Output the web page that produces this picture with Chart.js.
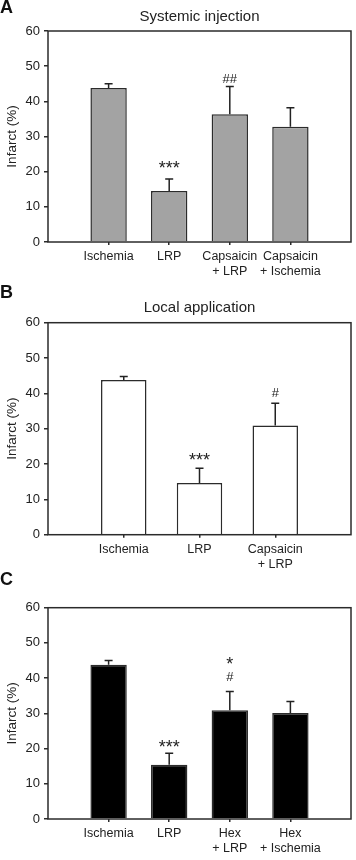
<!DOCTYPE html>
<html>
<head>
<meta charset="utf-8">
<script src="https://cdn.jsdelivr.net/npm/chart.js@4.4.1/dist/chart.umd.min.js"></script>
<style>
  body { margin: 0; background: #fff; }
  #wrap { position: relative; width: 356px; height: 860px; }
  canvas { position: absolute; left: 0; }
</style>
</head>
<body>
<div id="wrap">
  <canvas id="chartA" width="356" height="290" style="top:0px"></canvas>
  <canvas id="chartB" width="356" height="290" style="top:280px"></canvas>
  <canvas id="chartC" width="356" height="290" style="top:570px"></canvas>
</div>
<script>
// Panel A - systemic injection
var labelsA = ['Ischemia', 'LRP', ['Capsaicin', '+ LRP'], ['Capsaicin', '+ Ischemia']];
var infarctA = [43.8, 14.5, 36.3, 32.8];
var semA = [1.2, 3.4, 7.9, 5.4];
var sigTextA = [null, '***', '##', null];
var sigAtA = [null, 21.9, 46.4, null];

// Panel B - local application
var labelsB = ['Ischemia', 'LRP', ['Capsaicin', '+ LRP']];
var infarctB = [43.8, 14.6, 30.9];
var semB = [1.0, 4.2, 6.3];
var sigTextB = [null, '***', '#'];
var sigAtB = [null, 22.1, 40.2];

// Panel C - hexamethonium
var labelsC = ['Ischemia', 'LRP', ['Hex', '+ LRP'], ['Hex', '+ Ischemia']];
var infarctC = [43.8, 15.4, 30.9, 30.1];
var semC = [1.2, 3.3, 5.3, 3.3];
var sigTextC = [null, '***', '#', null];
var sigAtC = [null, 21.5, 40.4, null];
var sigTextC2 = [null, null, '*', null];
var sigAtC2 = [null, null, 45.0, null];

var yTicks = [0, 10, 20, 30, 40, 50, 60];

var FONT = '"Liberation Sans", Arial, Helvetica, sans-serif';
var INK = '#222';

// error bars (upwards only) + significance marks
var errBars = {
  id: 'errBars',
  afterDatasetsDraw: function(chart) {
    var o = chart.options.plugins.errBars;
    var ctx = chart.ctx;
    var ys = chart.scales.y;
    var meta = chart.getDatasetMeta(0);
    var vals = chart.data.datasets[0].data;
    ctx.save();
    ctx.strokeStyle = INK;
    ctx.lineWidth = 1.5;
    meta.data.forEach(function(bar, i) {
      var e = o.errors[i];
      if (e == null || vals[i] == null) return;
      var top = ys.getPixelForValue(vals[i] + e);
      ctx.beginPath();
      ctx.moveTo(bar.x, bar.y);
      ctx.lineTo(bar.x, top);
      ctx.moveTo(bar.x - 4, top);
      ctx.lineTo(bar.x + 4, top);
      ctx.stroke();
    });
    ctx.fillStyle = INK;
    ctx.textAlign = 'center';
    ctx.textBaseline = 'alphabetic';
    o.marks.forEach(function(m) {
      meta.data.forEach(function(bar, i) {
        var t = m.text[i];
        if (!t) return;
        ctx.font = (t.indexOf('*') >= 0 ? '18px ' : '13px ') + FONT;
        var mt = ctx.measureText(t);
        var yc = ys.getPixelForValue(m.at[i]);
        ctx.fillText(t, bar.x, yc + (mt.actualBoundingBoxAscent - mt.actualBoundingBoxDescent) / 2);
      });
    });
    ctx.restore();
  }
};

// frame round the plot + panel letter and heading
var panelText = {
  id: 'panelText',
  afterDraw: function(chart) {
    var o = chart.options.plugins.panelText;
    var a = chart.chartArea;
    var ctx = chart.ctx;
    ctx.save();
    ctx.strokeStyle = '#2b2b2b';
    ctx.lineWidth = 1.5;
    ctx.strokeRect(a.left, a.top, a.right - a.left, a.bottom - a.top);
    ctx.fillStyle = '#111';
    ctx.textBaseline = 'middle';
    ctx.textAlign = 'left';
    ctx.font = 'bold 18px ' + FONT;
    ctx.fillText(o.letter, 0, o.letterY);
    if (o.title) {
      ctx.fillStyle = INK;
      ctx.textAlign = 'center';
      ctx.font = '15px ' + FONT;
      ctx.fillText(o.title, (a.left + a.right) / 2, o.titleY);
    }
    ctx.restore();
  }
};

function makePanel(id, labels, values, errors, marks, fill, letter, letterY, title, titleY, padTop, axisH) {
  var cats = [''].concat(labels, ['']);
  var data = [null].concat(values, [null]);
  var errs = [null].concat(errors, [null]);
  var mk = marks.map(function(m) {
    return { text: [null].concat(m[0], [null]), at: [null].concat(m[1], [null]) };
  });
  var last = cats.length - 1;

  return new Chart(document.getElementById(id), {
    type: 'bar',
    data: {
      labels: cats,
      datasets: [{
        data: data,
        backgroundColor: fill,
        borderColor: '#2b2b2b',
        borderWidth: 1.5,
        borderSkipped: 'bottom',
        barPercentage: 0.6,
        categoryPercentage: 1.0
      }]
    },
    options: {
      responsive: false,
      animation: false,
      events: [],
      layout: { padding: { top: padTop, right: 5, left: 0, bottom: 0 } },
      plugins: {
        legend: { display: false },
        tooltip: { enabled: false },
        errBars: { errors: errs, marks: mk },
        panelText: { letter: letter, letterY: letterY, title: title, titleY: titleY }
      },
      scales: {
        x: {
          type: 'category',
          offset: false,
          afterFit: function(s) { s.height = axisH; },
          border: { display: false },
          grid: {
            display: true,
            offset: false,
            drawOnChartArea: false,
            drawTicks: true,
            tickLength: 3,
            lineWidth: 1.5,
            color: function(c) { return (c.index === 0 || c.index === last) ? 'rgba(0,0,0,0)' : '#2b2b2b'; }
          },
          ticks: {
            autoSkip: false,
            maxRotation: 0,
            padding: 4.5,
            color: INK,
            font: { family: FONT, size: 12.5 }
          }
        },
        y: {
          min: 0,
          max: 60,
          afterFit: function(s) { s.width = 48; },
          afterBuildTicks: function(s) { s.ticks = yTicks.map(function(v) { return { value: v }; }); },
          border: { display: false },
          grid: {
            display: true,
            drawOnChartArea: false,
            drawTicks: true,
            tickLength: 4,
            lineWidth: 1.5,
            color: '#2b2b2b'
          },
          ticks: {
            padding: 4,
            color: INK,
            font: { family: FONT, size: 13 }
          },
          title: {
            display: true,
            text: 'Infarct (%)',
            color: INK,
            padding: { top: 4.6, bottom: 0 },
            font: { family: FONT, size: 13.5 }
          }
        }
      }
    },
    plugins: [errBars, panelText]
  });
}

makePanel('chartA', labelsA, infarctA, semA, [[sigTextA, sigAtA]], '#a3a3a3',
  'A', 8.5, 'Systemic injection', 17, 31, 48);
makePanel('chartB', labelsB, infarctB, semB, [[sigTextB, sigAtB]], '#ffffff',
  'B', 13.5, 'Local application', 28, 42.7, 35.3);
makePanel('chartC', labelsC, infarctC, semC, [[sigTextC, sigAtC], [sigTextC2, sigAtC2]], '#000000',
  'C', 10, null, 0, 37.7, 41);
</script>
</body>
</html>
